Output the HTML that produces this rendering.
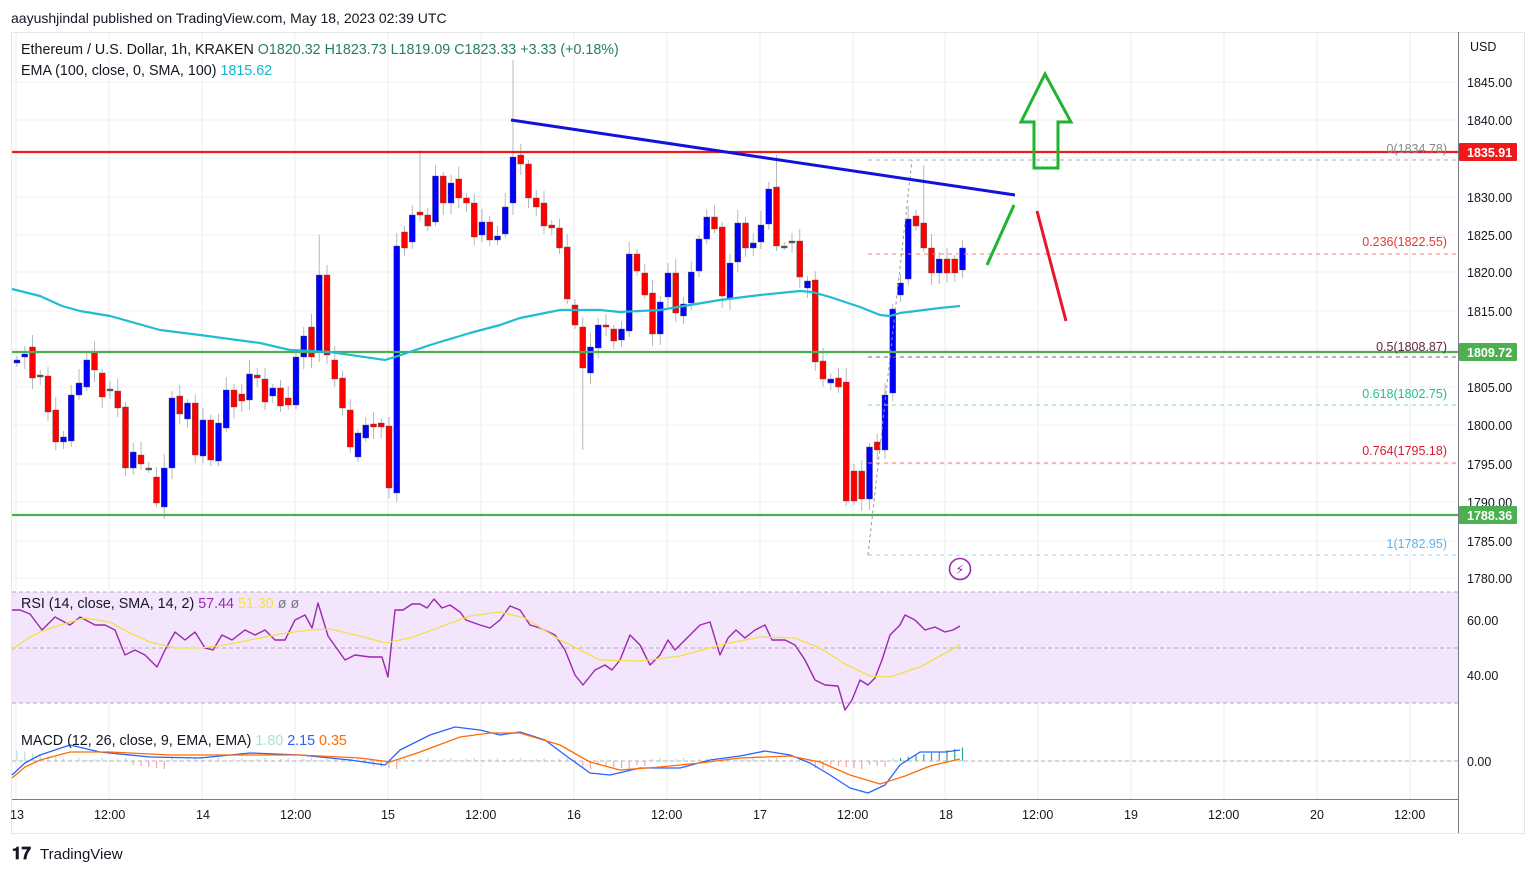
<!DOCTYPE html>
<html><head><meta charset="utf-8">
<style>
html,body{margin:0;padding:0;background:#fff;width:1536px;height:874px;overflow:hidden}
svg{display:block}
text{font-family:"Liberation Sans","DejaVu Sans",sans-serif}
</style></head>
<body>
<svg id="c" width="1536" height="874" xmlns="http://www.w3.org/2000/svg">
<rect width="1536" height="874" fill="#fff"/>
<text x="11" y="23" font-size="14" fill="#131722">aayushjindal published on TradingView.com, May 18, 2023 02:39 UTC</text>
<rect x="11.5" y="32.5" width="1513" height="801" fill="none" stroke="#e6e6ea"/>
<g id="grid"></g>
<rect x="12" y="592" width="1446" height="111" fill="#f3e5fc"/>
<line x1="12" x2="1458" y1="592" y2="592" stroke="#b5a8bd" stroke-dasharray="4,3"/>
<line x1="12" x2="1458" y1="648" y2="648" stroke="#b5a8bd" stroke-dasharray="4,3"/>
<line x1="12" x2="1458" y1="703" y2="703" stroke="#b5a8bd" stroke-dasharray="4,3"/>
<g id="candles"></g>
<g id="over"></g>
<line x1="1458.5" x2="1458.5" y1="32" y2="833" stroke="#787b86"/>
<line x1="12" x2="1458" y1="799.5" y2="799.5" stroke="#787b86"/>
<g font-size="12.5" fill="#131722">
<text x="1470" y="51">USD</text>
<text x="1467" y="87">1845.00</text><text x="1467" y="125">1840.00</text>
<text x="1467" y="202">1830.00</text><text x="1467" y="240">1825.00</text>
<text x="1467" y="277">1820.00</text><text x="1467" y="316">1815.00</text>
<text x="1467" y="392">1805.00</text><text x="1467" y="430">1800.00</text>
<text x="1467" y="469">1795.00</text><text x="1467" y="507">1790.00</text>
<text x="1467" y="546">1785.00</text><text x="1467" y="583">1780.00</text>
<text x="1467" y="625">60.00</text><text x="1467" y="680">40.00</text>
<text x="1467" y="766">0.00</text>
</g>
<rect x="1459" y="143" width="58" height="18" fill="#f01818" rx="1"/>
<text x="1467" y="157" font-size="12.5" fill="#fff" font-weight="bold">1835.91</text>
<rect x="1459" y="343" width="58" height="18" fill="#4caf50" rx="1"/>
<text x="1467" y="357" font-size="12.5" fill="#fff" font-weight="bold">1809.72</text>
<rect x="1459" y="506" width="58" height="18" fill="#4caf50" rx="1"/>
<text x="1467" y="520" font-size="12.5" fill="#fff" font-weight="bold">1788.36</text>
<g font-size="12.5" fill="#131722">
<text x="10" y="819">13</text><text x="94" y="819">12:00</text><text x="196" y="819">14</text>
<text x="280" y="819">12:00</text><text x="381" y="819">15</text><text x="465" y="819">12:00</text>
<text x="567" y="819">16</text><text x="651" y="819">12:00</text><text x="753" y="819">17</text>
<text x="837" y="819">12:00</text><text x="939" y="819">18</text><text x="1022" y="819">12:00</text>
<text x="1124" y="819">19</text><text x="1208" y="819">12:00</text><text x="1310" y="819">20</text>
<text x="1394" y="819">12:00</text>
</g>
<text x="21" y="54" font-size="14.3" fill="#131722">Ethereum / U.S. Dollar, 1h, KRAKEN <tspan fill="#26805a">O1820.32</tspan> <tspan fill="#26805a">H1823.73</tspan> <tspan fill="#26805a">L1819.09</tspan> <tspan fill="#26805a">C1823.33</tspan> <tspan fill="#26805a">+3.33 (+0.18%)</tspan></text>
<text x="21" y="75" font-size="14.3" fill="#131722">EMA (100, close, 0, SMA, 100) <tspan fill="#12b5cb">1815.62</tspan></text>
<text x="21" y="608" font-size="14.3" fill="#131722">RSI (14, close, SMA, 14, 2) <tspan fill="#9c27b0">57.44</tspan> <tspan fill="#f3e04a">51.30</tspan> <tspan fill="#787b86">ø ø</tspan></text>
<text x="21" y="745" font-size="14.3" fill="#131722">MACD (12, 26, close, 9, EMA, EMA) <tspan fill="#a8dfd8">1.80</tspan> <tspan fill="#2962ff">2.15</tspan> <tspan fill="#ff6d00">0.35</tspan></text>
<g font-size="12.5">
<text x="1447" y="153" text-anchor="end" fill="#888">0(1834.78)</text>
<text x="1447" y="246" text-anchor="end" fill="#e53935">0.236(1822.55)</text>
<text x="1447" y="351" text-anchor="end" fill="#5d2a3e">0.5(1808.87)</text>
<text x="1447" y="398" text-anchor="end" fill="#22c08a">0.618(1802.75)</text>
<text x="1447" y="455" text-anchor="end" fill="#d81b2b">0.764(1795.18)</text>
<text x="1447" y="548" text-anchor="end" fill="#5fb3e6">1(1782.95)</text>
</g>
<circle cx="960" cy="569" r="10.5" fill="none" stroke="#9c27b0" stroke-width="1.6"/>
<text x="960" y="574" font-size="13" fill="#9c27b0" text-anchor="middle">⚡</text>
<text x="12" y="859" font-size="17" font-weight="bold" fill="#131722">𝟏𝟕</text>
<text x="40" y="859" font-size="15" fill="#131722">TradingView</text>
</svg>
<script>
var NS="http://www.w3.org/2000/svg";
function el(p,t,a){var e=document.createElementNS(NS,t);for(var k in a)e.setAttribute(k,a[k]);p.appendChild(e);return e;}
var g=document.getElementById('grid');
[82,120,158,197,235,272,311,349,387,425,464,502,541,578,620,675,761].forEach(function(y){el(g,'line',{x1:12,x2:1458,y1:y,y2:y,stroke:'#f0f0f3'});});
[16,109,202,295,388,481,574,667,760,853,945,1038,1131,1224,1317,1410].forEach(function(x){el(g,'line',{x1:x,x2:x,y1:32,y2:799,stroke:'#ececf0'});});
var d=[[363,360],[357,354],[347,378],[375,375],[376,412],[410,442],[442,437],[441,395],[395,383],[387,360],[352,370],[373,397],[389,389],[391,408],[407,468],[468,452],[455,464],[468,468],[477,503],[507,468],[468,398],[396,414],[419,403],[403,455],[456,420],[420,460],[461,423],[428,390],[390,407],[394,401],[400,374],[375,378],[379,402],[396,388],[388,406],[398,405],[405,357],[357,336],[327,357],[352,275],[275,355],[360,379],[378,408],[410,447],[457,433],[438,425],[424,427],[423,427],[426,488],[493,246],[232,248],[242,215],[212,215],[215,226],[222,176],[176,203],[203,183],[179,198],[198,203],[203,237],[235,222],[222,240],[240,236],
[234,207],[203,157],[155,164],[164,198],[198,207],[203,226],[225,228],[228,248],[247,299],[305,325],[327,368],[373,347],[348,325],[325,327],[329,341],[340,329],[331,254],[254,271],[273,295],[293,334],[334,302],[297,273],[273,313],[316,304],[303,272],[271,239],[239,217],[217,229],[227,296],[299,263],[262,223],[223,248],[248,243],[242,225],[224,189],[187,246],[246,246],[241,241],[241,277],[288,281],[280,362],[361,379],[383,379],[378,387],[382,501],[471,501],[471,499],[499,447],[442,450],[450,395],[393,309],[295,283],[279,219],[216,226],[223,248],[248,273],[273,259],[259,273],[259,273],[270,248]];
var cg=document.getElementById('candles');
d.forEach(function(c,i){
 var x=17+7.75*i,o=c[0],cl=c[1],top=Math.min(o,cl),bot=Math.max(o,cl);
 var r=((i*37)%11);var hi=top-4-r,lo=bot+4+((i*53)%9);
 if(i==64)hi=60; if(i==52)hi=150; if(i==98)hi=155; if(i==117)hi=165; if(i==73)lo=450; if(i==39)hi=235;
 el(cg,'line',{x1:x,x2:x,y1:hi,y2:lo,stroke:'#b8b8b8','stroke-width':1});
 var col=(cl<o)?'#0000ff':(cl>o?'#ff0000':'#555');
 var h=Math.max(bot-top,2);
 el(cg,'rect',{x:x-3,y:top,width:6,height:h,fill:col,stroke:'#5a5a5a','stroke-width':0.4});
});
var ov=document.getElementById('over');
function pl(pts,col,w){return el(ov,'polyline',{points:pts.map(function(p){return p.join(',')}).join(' '),fill:'none',stroke:col,'stroke-width':w,'stroke-linejoin':'round'});}
el(ov,'line',{x1:868,x2:1458,y1:160,y2:160,stroke:'#aaa','stroke-dasharray':'4,4'});
el(ov,'line',{x1:868,x2:1458,y1:254,y2:254,stroke:'#f08080','stroke-dasharray':'4,4'});
el(ov,'line',{x1:868,x2:1458,y1:357,y2:357,stroke:'#8a5a6a','stroke-dasharray':'4,4'});
el(ov,'line',{x1:868,x2:1458,y1:405,y2:405,stroke:'#7fd6b8','stroke-dasharray':'4,4'});
el(ov,'line',{x1:868,x2:1458,y1:463,y2:463,stroke:'#f08080','stroke-dasharray':'4,4'});
el(ov,'line',{x1:868,x2:1458,y1:555,y2:555,stroke:'#9fd0ef','stroke-dasharray':'4,4'});
el(ov,'line',{x1:868,x2:912,y1:555,y2:160,stroke:'#999','stroke-dasharray':'3,3'});
el(ov,'line',{x1:12,x2:1458,y1:152,y2:152,stroke:'#f01818','stroke-width':2.2});
el(ov,'line',{x1:12,x2:1458,y1:352,y2:352,stroke:'#4caf50','stroke-width':2.2});
el(ov,'line',{x1:12,x2:1458,y1:515,y2:515,stroke:'#4caf50','stroke-width':2.2});
pl([[12,289],[40,296],[62,306],[80,311],[110,316],[160,330],[200,335],[260,343],[290,350],[330,352],[385,360],[395,357],[430,345],[470,333],[500,325],[520,318],[560,310],[600,310],[620,312],[660,310],[690,305],[720,300],[760,295],[800,291],[812,292],[830,297],[860,307],[880,315],[890,316],[900,313],[940,308],[960,306]],'#1fbcd2',2.2);
el(ov,'line',{x1:511,y1:120,x2:1015,y2:195,stroke:'#1212dd','stroke-width':3});
el(ov,'line',{x1:987,y1:265,x2:1014,y2:205,stroke:'#1fb52f','stroke-width':3});
el(ov,'line',{x1:1037,y1:211,x2:1066,y2:321,stroke:'#e8162c','stroke-width':3});
el(ov,'polygon',{points:'1034,168 1058,168 1058,122 1071,122 1045,74 1021,122 1034,122',fill:'none',stroke:'#1fb52f','stroke-width':3});
pl([[12,610],[20,610],[30,614],[42,630],[55,617],[70,625],[80,617],[95,625],[105,625],[115,630],[125,655],[135,650],[145,655],[157,667],[165,650],[175,632],[185,640],[195,632],[205,648],[213,650],[222,635],[232,640],[245,630],[255,635],[265,630],[275,640],[285,640],[295,620],[305,615],[312,628],[318,603],[328,636],[345,660],[355,655],[370,657],[382,657],[388,677],[395,610],[403,610],[412,604],[420,604],[427,608],[434,599],[442,608],[450,605],[460,612],[466,620],[480,625],[490,628],[500,620],[510,606],[520,610],[530,625],[540,628],[555,635],[565,650],[575,675],[583,685],[595,670],[605,665],[612,670],[620,660],[630,635],[640,645],[650,665],[660,655],[668,640],[675,650],[690,635],[700,625],[710,622],[720,655],[728,638],[736,630],[745,638],[755,630],[765,625],[772,640],[785,640],[795,645],[805,660],[815,680],[825,685],[838,686],[845,710],[852,700],[860,680],[868,685],[875,678],[882,660],[890,635],[900,625],[905,615],[915,620],[925,630],[935,627],[945,632],[953,630],[960,626]],'#9c27b0',1.4);
pl([[12,650],[25,640],[40,632],[60,625],[85,618],[110,622],[130,633],[150,642],[175,648],[200,648],[225,645],[250,640],[280,634],[310,630],[330,629],[360,636],[385,643],[410,638],[440,627],[470,616],[500,612],[525,618],[560,640],[600,660],[640,661],[680,656],[720,645],[760,637],[795,638],[820,648],[845,664],[870,676],[890,677],[920,667],[960,645]],'#f3e04a',1.3);
for(var i=0;i<123;i++){var x=17+7.75*i,v;var dn=(i>14&&i<20)||(i>45&&i<50)||(i>72&&i<82)||(i>102&&i<113);var up=(i>=114);
 if(up){v=-(3+(i-114)*1.3);}else if(dn){v=4+(i%5);}else{v=-(i<8?(8-i)*1.3:1+(i%3));}
 el(ov,'line',{x1:x,x2:x,y1:761,y2:761+v,stroke:up?'#26a69a':(dn?'#f7a5a5':'#b2dfdb'),'stroke-width':1.2});}
el(ov,'line',{x1:12,x2:1458,y1:761,y2:761,stroke:'#b0b0b8','stroke-dasharray':'4,3'});
pl([[12,775],[25,763],[40,755],[55,750],[70,745],[100,752],[150,757],[200,758],[250,753],[300,755],[350,760],[385,765],[400,750],[430,735],[455,727],[480,730],[500,735],[520,732],[545,740],[565,755],[590,773],[610,775],[640,768],[680,768],[710,760],[740,756],[765,751],[790,755],[810,763],[830,775],[850,788],[868,793],[885,785],[900,765],[920,752],[945,752],[960,750]],'#2962ff',1.3);
pl([[12,778],[25,767],[40,760],[70,752],[110,752],[170,755],[230,755],[300,755],[360,758],[390,762],[420,752],[460,737],[490,733],[520,733],[560,745],[590,762],[620,770],[660,767],[700,763],[740,758],[790,756],[820,762],[850,775],[880,784],[905,776],[930,766],[960,759]],'#ff6d00',1.3);
</script>
</body></html>
